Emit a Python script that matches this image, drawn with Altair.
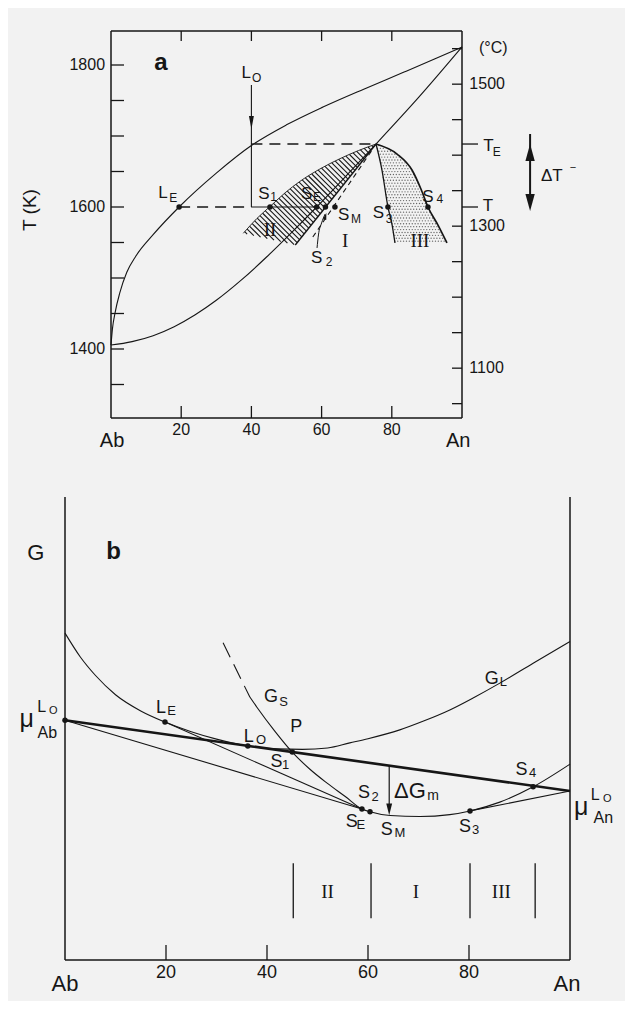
import altair as alt
import numpy as np
import pandas as pd

# ======================= DATA =======================
# ---- panel a : T-X diagram (x = wt% An, T in K) ----
LIQ_X = [0, 0.4, 1.2, 2.5, 4.5, 7.1, 12, 19.4, 30, 40.2, 50, 60.4, 72, 83.5, 92, 100]
LIQ_T = [1405.6, 1428, 1452, 1479, 1508, 1531, 1561, 1600, 1647.7, 1687.3, 1715.7,
         1740.8, 1766, 1790, 1808, 1825.4]
SOL_X = [0, 6, 12, 18, 24, 30, 37, 44.4, 51.5, 58.6, 67, 75.5, 87.7, 100]
SOL_T = [1405.6, 1410.4, 1418.8, 1431.4, 1448.2, 1468.6, 1496.6, 1529.9, 1564.3, 1600,
         1643.9, 1688.7, 1754.6, 1825.4]
T_E, T_U = 1688.7, 1600.0
LO_X = 40.0
LE_X = 19.4
SE_X = 58.6
APEX_X = 75.5
REG2_UP_X = [37.7, 41.5, 45.6, 49.6, 53.8, 59.5, 65.2, 70.5, 75.5]
REG2_UP_T = [1563, 1583.5, 1602, 1620, 1636, 1653.5, 1668, 1679.5, 1688.7]
REG2_LOW = (52.5, 1546.5)
SM_X = [57.5, 74.4]
SM_T = [1557.7, 1680.3]
REG3_L_X = [75.5, 77.2, 78.9, 80.1, 80.9]
REG3_L_T = [1688.7, 1652, 1600, 1574.6, 1549.3]
REG3_R_X = [75.5, 81.5, 85.75, 88.3, 90.3, 93.16, 95.73]
REG3_R_T = [1688.7, 1674.6, 1652.1, 1625.4, 1600, 1574.6, 1549.3]
DOTS_A_X = [19.4, 45.3, 58.6, 61.1, 63.8, 78.9, 90.3]
S2_ARROW_X = [58.7, 59.1, 60.0, 61.0]
S2_ARROW_T = [1542.3, 1560.6, 1577.5, 1590.1]
LEFT_TICKS_K = list(range(1350, 1801, 50))
RIGHT_TICKS_C = list(range(1050, 1551, 50))
COMP_TICKS = [20, 40, 60, 80]
A_TOP_K, A_BOT_K = 1847.9, 1302.8

# ---- panel b : G-X diagram (x = wt% An, G arbitrary units) ----
GL_X = [0, 3, 6, 10, 15, 19.8, 25, 30, 36.2, 42, 47, 52, 56.4, 60, 66.3, 71, 76.2, 81,
        86.1, 92.7, 100]
GL_G = [70.6, 65.5, 61.5, 57.3, 53.8, 51.4, 49.3, 47.7, 46.2, 45.6, 45.5, 45.8, 46.9,
        47.8, 49.7, 51.6, 54.0, 56.7, 59.8, 64.1, 68.8]
GS_DASH_X = [31.3, 36.6]
GS_DASH_G = [68.5, 56.8]
GS_X = [36.6, 38, 41.5, 45, 48.5, 51.9, 55.5, 58.8, 60.4, 64.4, 70.3, 76.2, 80.2, 86.1,
        92.7, 100]
GS_G = [56.8, 54.6, 49.5, 44.9, 41.2, 38.2, 35.3, 32.6, 32.0, 31.2, 31.0, 31.4, 32.2,
        34.1, 37.4, 42.3]
MU_AB, MU_AN = 51.8, 36.5
DOTS_B_X = [0, 19.8, 36.2, 45, 58.8, 60.4, 80.2, 92.7]
DOTS_B_G = [51.8, 51.4, 46.2, 44.9, 32.6, 32.0, 32.2, 37.4]
THIN_B = [(0, 51.8, 58.8, 32.6), (19.8, 51.4, 58.8, 32.6), (80.2, 32.2, 100, 36.5)]
REGION_LINES_B = [45.2, 60.6, 80.2, 93.1]
DG_X, DG_TOP, DG_BOT = 64.2, 42.0, 31.3

# ---- labels ----
A_LET = [(38.5, 1789.4, 'L'), (14.8, 1620.4, 'L'), (43.6, 1619.0, 'S'), (55.75, 1619.0, 'S'),
         (66.3, 1588.7, 'S'), (58.6, 1528.2, 'S'), (76.2, 1591.5, 'S'), (90.3, 1614.5, 'S'),
         (107.5, 1686.2, 'T'), (107.4, 1601.4, 'T')]
A_SUB = [(41.5, 1781.3, 'O'), (17.7, 1612.7, 'E'), (46.3, 1613.4, '1'), (58.7, 1613.4, 'E'),
         (69.8, 1583.8, 'M'), (62.1, 1523.0, '2'), (79.2, 1582.4, '3'), (93.7, 1611.0, '4'),
         (109.9, 1677.9, 'E')]
A_ROMAN = [(45.3, 1567.6, 'II'), (66.7, 1552.8, 'I'), (88.0, 1552.8, 'III')]
A_LEFT_LAB = [(-1.7, 1800, '1800'), (-1.7, 1600, '1600'), (-1.7, 1400, '1400')]
A_RIGHT_LAB = [(102.1, 1773, '1500'), (102.1, 1573, '1300'), (102.1, 1373, '1100')]
A_BOT_NUM = [(20, 1286, '20'), (40, 1286, '40'), (60, 1286, '60'), (80, 1286, '80')]
A_ABAN = [(0.3, 1270.4, 'Ab'), (98.9, 1270.4, 'An')]

B_LET = [(19.0, 54.5, 'L'), (36.4, 48.2, 'L'), (45.8, 50.4, 'P'), (41.9, 42.7, 'S'),
         (40.8, 56.7, 'G'), (84.5, 60.6, 'G'), (59.2, 36.0, 'S'), (56.8, 29.9, 'S'),
         (63.7, 28.1, 'S'), (79.2, 28.8, 'S'), (90.4, 41.0, 'S')]
B_SUB = [(21.1, 53.8, 'E'), (38.8, 47.5, 'O'), (43.7, 42.1, '1'), (43.3, 55.8, 'S'),
         (86.8, 60.1, 'L'), (61.4, 35.3, '2'), (58.6, 29.2, 'E'), (66.3, 27.4, 'M'),
         (81.3, 28.1, '3'), (92.6, 40.3, '4')]
B_MU = [(-7.6, 52.0, 'μ'), (102.2, 33.1, 'μ')]
B_MU_L = [(-4.6, 54.6, 'L'), (105.0, 35.6, 'L')]
B_MU_O = [(-2.3, 53.7, 'O'), (107.4, 34.8, 'O')]
B_MU_SUB = [(-3.5, 49.1, 'Ab'), (106.6, 30.7, 'An')]
B_ROMAN = [(52.0, 14.75, 'II'), (69.5, 14.75, 'I'), (86.4, 14.75, 'III')]
B_NUM = [(20, -2.9, '20'), (40, -2.9, '40'), (60, -2.9, '60'), (80, -2.9, '80')]
B_ABAN = [(0, -5.1, 'Ab'), (99.4, -5.1, 'An')]

# ======================= LAYOUT / STYLE =======================
W, H = 617, 993
BG = "#f2f2f2"
INK = "#161616"
SANS = "Liberation Sans"
SERIF = "Liberation Serif"

AX0, AXS = 103.0, 3.51            # panel a: x px of 0 %, px per %
AY0, AYS, AREF = 199.0, 0.71, 1600.0
BX0, BXS = 57.0, 5.05             # panel b
BY0, BYS = 952.0, 4.63

XA = alt.Scale(domain=[-AX0 / AXS, (W - AX0) / AXS], nice=False, zero=False)
YA = alt.Scale(domain=[AREF - (H - AY0) / AYS, AREF + AY0 / AYS], nice=False, zero=False)
XB = alt.Scale(domain=[-BX0 / BXS, (W - BX0) / BXS], nice=False, zero=False)
YB = alt.Scale(domain=[-(H - BY0) / BYS, BY0 / BYS], nice=False, zero=False)


def dxa(px):
    return px / AXS


def dya(px):
    return px / AYS


def dxb(px):
    return px / BXS


def dyb(px):
    return px / BYS


layers = []


def pos(panel):
    sx, sy = (XA, YA) if panel == 'a' else (XB, YB)
    return dict(x=alt.X('x:Q', scale=sx, axis=None), y=alt.Y('y:Q', scale=sy, axis=None))


def add_line(panel, xs, ys, width=1.1, dash=None, interp='linear'):
    df = pd.DataFrame({'x': list(xs), 'y': list(ys), 'i': list(range(len(xs)))})
    kw = dict(color=INK, strokeWidth=width, interpolate=interp, strokeJoin='round')
    if dash is not None:
        kw['strokeDash'] = dash
    layers.append(alt.Chart(df).mark_line(**kw).encode(order=alt.Order('i:Q'), **pos(panel)))


def add_rules(panel, rows, width=1.1, dash=None, color=INK):
    df = pd.DataFrame(rows, columns=['x', 'y', 'x2', 'y2'])
    kw = dict(color=color, strokeWidth=width)
    if dash is not None:
        kw['strokeDash'] = dash
    layers.append(alt.Chart(df).mark_rule(**kw).encode(
        x2=alt.X2('x2:Q'), y2=alt.Y2('y2:Q'), **pos(panel)))


def add_dots(panel, xs, ys, size=30, color=INK, opacity=1.0):
    df = pd.DataFrame({'x': list(xs), 'y': list(ys)})
    layers.append(alt.Chart(df).mark_circle(size=size, color=color, opacity=opacity)
                  .encode(**pos(panel)))


def head(hw, up):
    return f"M0,-1L{-hw},1L{hw},1Z" if up else f"M0,1L{-hw},-1L{hw},-1Z"


def add_head(panel, x, y, shape, size, angle=0):
    df = pd.DataFrame({'x': [x], 'y': [y]})
    kw = dict(shape=shape, size=size, filled=True, color=INK, opacity=1, strokeWidth=0)
    if angle:
        kw['angle'] = angle
    layers.append(alt.Chart(df).mark_point(**kw).encode(**pos(panel)))


def add_text(panel, items, size, font=SANS, weight='normal', style='normal',
             align='center', angle=0):
    df = pd.DataFrame(items, columns=['x', 'y', 't'])
    kw = dict(fontSize=size, font=font, fontWeight=weight, fontStyle=style,
              align=align, baseline='middle', color=INK)
    if angle:
        kw['angle'] = angle
    layers.append(alt.Chart(df).mark_text(**kw).encode(text='t:N', **pos(panel)))


def a_px(c, K):
    return AX0 + AXS * c, AY0 - AYS * (K - AREF)


def a_data(px, py):
    return (px - AX0) / AXS, AREF + (AY0 - py) / AYS


def hatch_rows(cs, Ks, step):
    P = [a_px(c, K) for c, K in zip(cs, Ks)]
    n = len(P)
    u = [x - y for x, y in P]
    rows = []
    k = np.floor(min(u) / step) * step + step / 2
    while k < max(u):
        hits = []
        for i in range(n):
            x1, y1 = P[i]
            x2, y2 = P[(i + 1) % n]
            f1, f2 = x1 - y1 - k, x2 - y2 - k
            if (f1 < 0) != (f2 < 0):
                t = f1 / (f1 - f2)
                hits.append((x1 + t * (x2 - x1), y1 + t * (y2 - y1)))
        hits.sort(key=lambda p: p[1])
        for j in range(0, len(hits) - 1, 2):
            c1, k1 = a_data(*hits[j])
            c2, k2 = a_data(*hits[j + 1])
            rows.append((c1, k1, c2, k2))
        k += step
    return rows


def inside(P, x, y):
    res = False
    n = len(P)
    for i in range(n):
        x1, y1 = P[i]
        x2, y2 = P[(i + 1) % n]
        if (y1 > y) != (y2 > y):
            xi = x1 + (y - y1) * (x2 - x1) / (y2 - y1)
            if x < xi:
                res = not res
    return res


def stipple(cs, Ks, step):
    P = [a_px(c, K) for c, K in zip(cs, Ks)]
    xs = [p[0] for p in P]
    ys = [p[1] for p in P]
    out_c, out_k = [], []
    j = 0
    y = min(ys) + step / 2
    while y < max(ys):
        x = min(xs) + (step / 2 if j % 2 else 0)
        while x < max(xs):
            if inside(P, x, y):
                c, K = a_data(x, y)
                out_c.append(c)
                out_k.append(K)
            x += step
        y += step
        j += 1
    return out_c, out_k


# ======================= PANEL A =======================
# hatched region II
poly2_x = REG2_UP_X + [REG2_LOW[0]]
poly2_t = REG2_UP_T + [REG2_LOW[1]]
add_rules('a', hatch_rows(poly2_x, poly2_t, 5.2), width=1.1)
# stippled region III
poly3_x = REG3_L_X + REG3_R_X[::-1][:-1]
poly3_t = REG3_L_T + REG3_R_T[::-1][:-1]
sx3, sk3 = stipple(poly3_x, poly3_t, 2.9)
add_dots('a', sx3, sk3, size=1.8, color="#333333", opacity=0.75)

# frame
add_rules('a', [(0, A_BOT_K, 0, A_TOP_K), (100, A_BOT_K, 100, A_TOP_K),
                (0, A_BOT_K, 100, A_BOT_K), (0, A_TOP_K, 100, A_TOP_K)], width=1.5)
# ticks (inward)
add_rules('a', [(0, k, dxa(13), k) for k in LEFT_TICKS_K], width=1.3)
add_rules('a', [(100 - dxa(10), c + 273, 100, c + 273) for c in RIGHT_TICKS_C], width=1.3)
add_rules('a', [(c, A_TOP_K, c, A_TOP_K - dya(10)) for c in COMP_TICKS], width=1.3)
add_rules('a', [(c, A_BOT_K, c, A_BOT_K + dya(12)) for c in COMP_TICKS], width=1.3)
add_rules('a', [(100, T_E, 100 + dxa(16), T_E), (100, T_U, 100 + dxa(16), T_U)], width=1.3)

# liquidus / solidus
add_line('a', LIQ_X, LIQ_T, width=1.1, interp='monotone')
add_line('a', SOL_X, SOL_T, width=1.1, interp='monotone')
# region boundaries
add_line('a', REG2_UP_X, REG2_UP_T, width=0.9, interp='monotone')
add_rules('a', [(APEX_X, T_E, REG2_LOW[0], REG2_LOW[1])], width=1.4)
add_line('a', SM_X, SM_T, width=1.1, dash=[5, 4])
add_line('a', REG3_L_X, REG3_L_T, width=1.3, interp='monotone')
add_line('a', REG3_R_X, REG3_R_T, width=1.7, interp='monotone')
# construction lines
add_rules('a', [(LO_X, T_E, APEX_X, T_E), (LE_X, T_U, LO_X, T_U)], width=1.3, dash=[11, 7])
add_rules('a', [(LO_X, T_U, SE_X, T_U), (LO_X, 1771.8, LO_X, T_U)], width=1.1)
add_head('a', LO_X, 1719.0, head(0.38, False), 169)
# S2 pointer
add_line('a', S2_ARROW_X, S2_ARROW_T, width=1.0, interp='monotone')
add_head('a', 61.1, 1587.0, head(0.5, True), 49, angle=15)
# Delta T arrow
add_rules('a', [(119.4, T_E + dya(10), 119.4, 1594.4 - dya(-10))], width=2.0)
add_head('a', 119.4, T_E - dya(8.5), head(0.55, True), 289)
add_head('a', 119.4, 1594.4 + dya(8.5), head(0.55, False), 289)
# dots
add_dots('a', DOTS_A_X, [T_U] * len(DOTS_A_X), size=30)

# texts
add_text('a', A_LET, 17)
add_text('a', A_SUB, 12)
add_text('a', A_ROMAN, 19, font=SERIF)
add_text('a', A_LEFT_LAB, 16, align='right')
add_text('a', A_RIGHT_LAB, 16, align='left')
add_text('a', A_BOT_NUM, 16)
add_text('a', A_ABAN, 20)
add_text('a', [(108.9, 1823.5, '(°C)')], 16)
add_text('a', [(14.2, 1802.4, 'a')], 24, weight='bold')
add_text('a', [(125.6, 1643.7, 'ΔT')], 17)
add_text('a', [(131.6, 1655.5, '−')], 11)
add_text('a', [(-23.1, 1595.8, 'T (K)')], 19, angle=270)

# ======================= PANEL B =======================
add_rules('b', [(0, 0, 0, 100), (100, 0, 100, 100), (0, 0, 100, 0)], width=1.5)
add_rules('b', [(c, 0, c, dyb(15)) for c in COMP_TICKS], width=1.3)
add_rules('b', [(c, 9.0, c, 20.9) for c in REGION_LINES_B], width=1.3)

add_line('b', GL_X, GL_G, width=1.1, interp='monotone')
add_line('b', GS_X, GS_G, width=1.1, interp='monotone')
add_line('b', GS_DASH_X, GS_DASH_G, width=1.1, dash=[16, 8])
add_rules('b', THIN_B, width=1.1)
add_rules('b', [(0, MU_AB, 100, MU_AN)], width=2.6)
add_rules('b', [(DG_X, DG_TOP, DG_X, DG_BOT + dyb(8))], width=1.2)
add_head('b', DG_X, DG_BOT + dyb(5.8), head(0.5, False), 137)
add_dots('b', DOTS_B_X, DOTS_B_G, size=30)

add_text('b', B_LET, 18)
add_text('b', B_SUB, 13)
add_text('b', B_MU, 25)
add_text('b', B_MU_L, 16)
add_text('b', B_MU_O, 11)
add_text('b', B_MU_SUB, 16)
add_text('b', [(68.3, 36.4, 'ΔG')], 22)
add_text('b', [(72.9, 35.4, 'm')], 14)
add_text('b', [(-5.8, 88.0, 'G')], 22)
add_text('b', [(9.6, 88.2, 'b')], 24, weight='bold')
add_text('b', B_ROMAN, 19, font=SERIF)
add_text('b', B_NUM, 18)
add_text('b', B_ABAN, 22)

chart = alt.layer(*layers).resolve_scale(x='independent', y='independent').properties(
    width=W, height=H, padding=0, background=BG,
    autosize=alt.AutoSizeParams(type='none')
).configure_view(stroke=None)

chart.save("out.html", embed_options={"renderer": "svg", "actions": False})
